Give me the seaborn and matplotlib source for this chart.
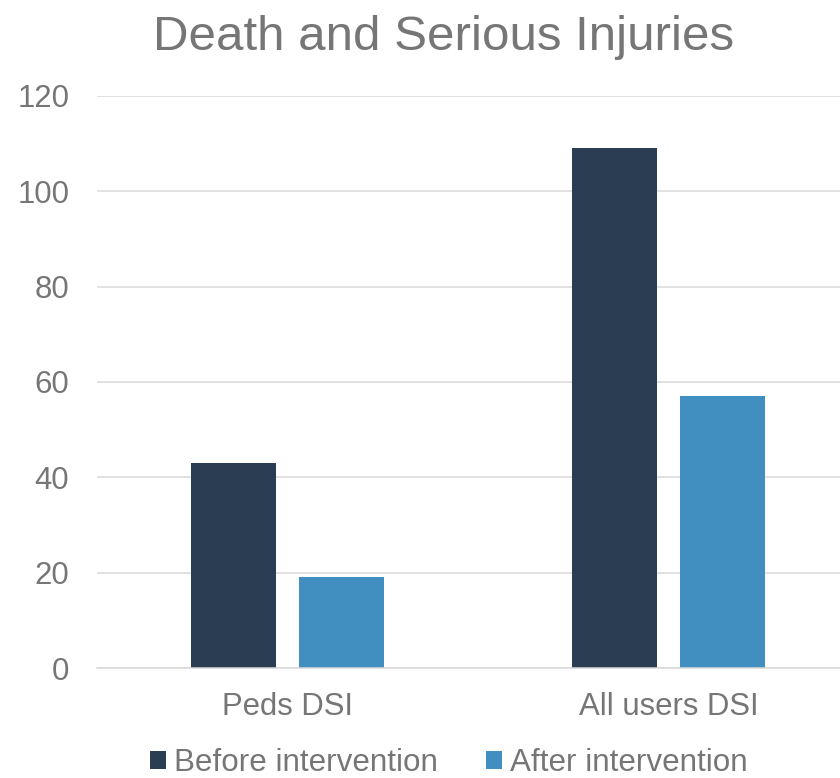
import matplotlib
matplotlib.use("Agg")
import matplotlib.pyplot as plt
import seaborn as sns
import pandas as pd
from matplotlib.patches import Patch

categories = ["Peds DSI", "All users DSI"]
series_names = ["Before intervention", "After intervention"]
before_values = [43, 109]
after_values = [19, 57]
y_ticks = [0, 20, 40, 60, 80, 100, 120]
colors = ["#2a3d52", "#418fc0"]
title = "Death and Serious Injuries"

df = pd.DataFrame({
    "category": categories * 2,
    "series": [series_names[0]] * 2 + [series_names[1]] * 2,
    "value": before_values + after_values,
})

sns.set_theme(style="white")
plt.rcParams["font.family"] = ["Liberation Sans", "DejaVu Sans"]

text_color = "#767676"
grid_color = "#d9d9d9"

fig = plt.figure(figsize=(8.4, 7.78), dpi=100)
ax = fig.add_axes([97 / 840, 110 / 778, 762 / 840, 572 / 778])

sns.barplot(data=df, x="category", y="value", hue="series", order=categories,
            hue_order=series_names, palette=colors, width=0.572, gap=0.22,
            saturation=1, ax=ax, legend=False, linewidth=0)

ax.set_ylim(0, 120)
ax.set_xlim(-0.5, 1.5)
ax.set_yticks(y_ticks)
ax.set_yticklabels([str(t) for t in y_ticks])
ax.yaxis.grid(True, color=grid_color, linewidth=1.1)
ax.set_axisbelow(True)
for s in ["top", "right", "left"]:
    ax.spines[s].set_visible(False)
ax.spines["bottom"].set_color(grid_color)
ax.spines["bottom"].set_linewidth(1.1)
ax.tick_params(axis="y", length=0, pad=20, labelsize=22.4, labelcolor=text_color)
ax.tick_params(axis="x", length=0, pad=17, labelsize=22.4, labelcolor=text_color)
ax.set_xlabel("")
ax.set_ylabel("")

fig.text(444 / 840, 1 - 38 / 778, title, ha="center", va="center",
         fontsize=35.5, color=text_color)

handles = [Patch(facecolor=c, edgecolor="none") for c in colors]
leg = fig.legend(handles, series_names, loc="center",
                 bbox_to_anchor=(449 / 840, 1 - 763 / 778), ncol=2,
                 frameon=False, fontsize=22.6, handlelength=0.5,
                 handleheight=0.5, handletextpad=0.25, columnspacing=1.55,
                 borderaxespad=0, borderpad=0)
for t in leg.get_texts():
    t.set_color(text_color)

fig.savefig("out.png", dpi=100)
